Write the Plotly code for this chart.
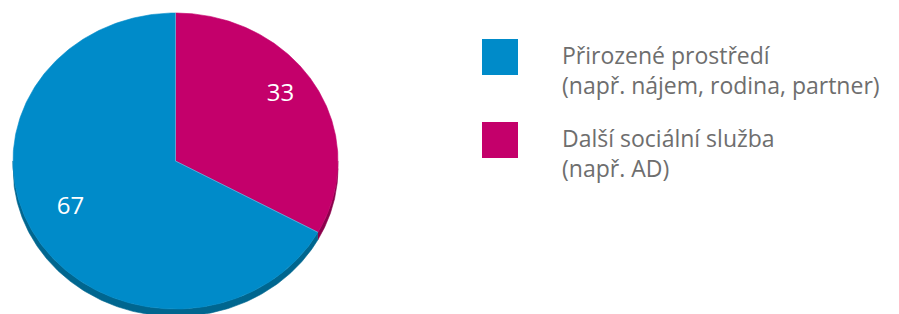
import numpy as np
import plotly.graph_objects as go

# ---- data ----
categories = ["Přirozené prostředí<br>(např. nájem, rodina, partner)",
              "Další sociální služba<br>(např. AD)"]
values = [67, 33]
colors = ["#008bc9", "#c4006b"]
side_colors = ["#00668f", "#8c004c"]

# ---- geometry (pixel space) ----
W, H = 899, 314
CX, CY, RX, RY, DEPTH = 175.5, 161.0, 162.5, 148.0, 7.5

def pt(theta_deg, r=1.0, dy=0.0):
    t = np.radians(theta_deg)
    return CX + r * RX * np.sin(t), CY - r * RY * np.cos(t) + dy

total = sum(values)
order = [1, 0]  # magenta slice starts at 12 o'clock, clockwise
spans = {}
start = 0.0
for i in order:
    ext = values[i] / total * 360.0
    spans[i] = (start, start + ext)
    start += ext

fig = go.Figure()

# sides (depth) - lower half only
for i in order:
    a, b = spans[i]
    lo, hi = max(a, 90.0), min(b, 270.0)
    if hi <= lo:
        continue
    th = np.linspace(lo, hi, 200)
    x1, y1 = pt(th)
    x2, y2 = pt(th[::-1], dy=DEPTH)
    fig.add_trace(go.Scatter(x=np.concatenate([x1, x2]), y=np.concatenate([y1, y2]),
                             fill="toself", fillcolor=side_colors[i], mode="lines",
                             line=dict(width=0.6, color=side_colors[i]), hoverinfo="skip",
                             showlegend=False))

# top faces
for i in order:
    a, b = spans[i]
    th = np.linspace(a, b, 300)
    x, y = pt(th)
    fig.add_trace(go.Scatter(x=np.concatenate([[CX], x, [CX]]), y=np.concatenate([[CY], y, [CY]]),
                             fill="toself", fillcolor=colors[i], mode="lines",
                             line=dict(width=0.6, color=colors[i]), hoverinfo="skip",
                             showlegend=False))

# slice edge highlight lines
for i in order:
    a, _ = spans[i]
    ex, ey = pt(a)
    fig.add_trace(go.Scatter(x=[CX, ex], y=[CY, ey], mode="lines",
                             line=dict(width=0.8, color="rgba(255,255,255,0.35)"),
                             hoverinfo="skip", showlegend=False))

# value labels
lx, ly, lt = [], [], []
for i in order:
    a, b = spans[i]
    x, y = pt((a + b) / 2, r=0.75, dy=-10)
    lx.append(x); ly.append(y); lt.append(str(values[i]))
fig.add_trace(go.Scatter(x=lx, y=ly, text=lt, mode="text",
                         textfont=dict(family="Open Sans", size=24, color="white"),
                         hoverinfo="skip", showlegend=False))

# legend
LEG_X, LEG_Y0, LEG_DY, SQ = 500, 57, 83, 36
for k, i in enumerate([0, 1]):
    yc = LEG_Y0 + k * LEG_DY
    fig.add_shape(type="rect", xref="x", yref="y", x0=LEG_X - SQ / 2, x1=LEG_X + SQ / 2,
                  y0=yc - SQ / 2, y1=yc + SQ / 2, fillcolor=colors[i], line=dict(width=0))
    fig.add_annotation(x=560, y=yc + 13, xref="x", yref="y", text=categories[i],
                       showarrow=False, xanchor="left", yanchor="middle", align="left",
                       font=dict(family="Open Sans", size=23, color="#6e6e6e"))

fig.update_layout(
    width=W, height=H, margin=dict(l=0, r=0, t=0, b=0),
    paper_bgcolor="white", plot_bgcolor="white",
    xaxis=dict(range=[0, W], visible=False, fixedrange=True),
    yaxis=dict(range=[H, 0], visible=False, fixedrange=True),
    showlegend=False,
)
fig.write_html("out.html", config={"displayModeBar": False, "staticPlot": True},
               post_script="document.body.style.margin='0';document.body.style.overflow='hidden';")
